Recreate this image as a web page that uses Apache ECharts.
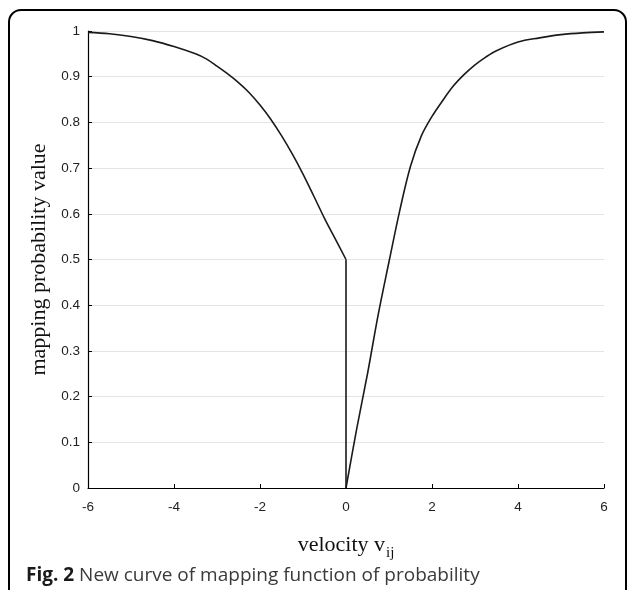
<!DOCTYPE html>
<html>
<head>
<meta charset="utf-8">
<script src="https://cdn.jsdelivr.net/npm/echarts@6/dist/echarts.min.js"></script>
<style>
html,body{margin:0;padding:0;background:#fff;}
#chart{width:627px;height:590px;}
</style>
</head>
<body>
<div id="chart"></div>
<script>
// velocity values (left branch, v <= 0) and mapped probability
const leftV = [-6, -5.5, -5, -4.5, -4, -3.5, -3.25, -3, -2.75, -2.5, -2.25, -2, -1.75, -1.5, -1.25, -1, -0.75, -0.5, -0.25, 0];
const leftP = [0.997, 0.994, 0.988, 0.979, 0.966, 0.950, 0.939, 0.923, 0.906, 0.887, 0.865, 0.838, 0.807, 0.771, 0.731, 0.687, 0.639, 0.590, 0.545, 0.5];
// right branch, v >= 0
const rightV = [0, 0.25, 0.5, 0.75, 1, 1.25, 1.5, 1.75, 2, 2.25, 2.5, 2.75, 3, 3.25, 3.5, 4, 4.5, 5, 5.5, 6];
const rightP = [0, 0.13, 0.25, 0.38, 0.495, 0.607, 0.704, 0.77, 0.813, 0.848, 0.88, 0.905, 0.926, 0.943, 0.957, 0.976, 0.985, 0.992, 0.996, 0.998];

const xTicks = {min: -6, max: 6, step: 2};
const yTicks = {min: 0, max: 1, step: 0.1};

const yTitle = 'mapping probability value';
const xTitleMain = 'velocity v';
const xTitleSub = 'ij';
const captionBold = 'Fig. 2';
const captionText = ' New curve of mapping function of probability';

const leftData = leftV.map((v, i) => [v, leftP[i]]);
const rightData = rightV.map((v, i) => [v, rightP[i]]);
// jump at v = 0 joins the end of the left branch to the start of the right branch
const jumpData = [leftData[leftData.length - 1], rightData[0]];

const serif = 'Liberation Serif, Times New Roman, serif';
const sans = 'Liberation Sans, Arial, sans-serif';
const lineStyle = {color: '#1a1a1a', width: 1.6};

const chart = echarts.init(document.getElementById('chart'), null, {renderer: 'canvas'});
chart.setOption({
  animation: false,
  backgroundColor: '#fff',
  grid: {left: 88, top: 31, width: 516, height: 457, containLabel: false},
  xAxis: {
    type: 'value',
    min: xTicks.min, max: xTicks.max, interval: xTicks.step,
    axisLine: {show: true, onZero: false, lineStyle: {color: '#000', width: 1.2}},
    axisTick: {show: true, inside: true, length: 4, lineStyle: {color: '#000'}},
    axisLabel: {color: '#222', fontFamily: sans, fontSize: 13.5, margin: 12},
    splitLine: {show: false},
    name: '{a|' + xTitleMain + '}{b|' + xTitleSub + '}',
    nameLocation: 'middle',
    nameGap: 42,
    nameTextStyle: {
      rich: {
        a: {fontFamily: serif, fontSize: 22, color: '#111'},
        b: {fontFamily: serif, fontSize: 15, color: '#111', padding: [16, 0, 0, 1]}
      }
    }
  },
  yAxis: {
    type: 'value',
    min: yTicks.min, max: yTicks.max, interval: yTicks.step,
    axisLine: {show: true, onZero: false, lineStyle: {color: '#000', width: 1.2}},
    axisTick: {show: true, inside: true, length: 4, lineStyle: {color: '#000'}},
    axisLabel: {color: '#222', fontFamily: sans, fontSize: 13.5, margin: 8},
    splitLine: {show: true, lineStyle: {color: '#e4e4e4', width: 1}},
    name: yTitle,
    nameLocation: 'middle',
    nameGap: 26,
    nameTextStyle: {fontFamily: serif, fontSize: 22, color: '#111'}
  },
  series: [
    {type: 'line', data: leftData, showSymbol: false, smooth: 0.35, lineStyle: lineStyle, z: 5},
    {type: 'line', data: jumpData, showSymbol: false, smooth: false, lineStyle: lineStyle, z: 5},
    {type: 'line', data: rightData, showSymbol: false, smooth: 0.35, lineStyle: lineStyle, z: 5}
  ],
  graphic: [
    {
      type: 'rect',
      shape: {x: 9, y: 10, width: 617, height: 640, r: 12},
      style: {fill: null, stroke: '#000', lineWidth: 2},
      silent: true
    },
    {
      type: 'text',
      left: 26,
      top: 566,
      style: {
        text: '{b|' + captionBold + '}{n|' + captionText + '}',
        rich: {
          b: {fontFamily: 'Open Sans, Noto Sans, sans-serif', fontWeight: 'bold', fontSize: 19, fill: '#1a1a1a'},
          n: {fontFamily: 'Open Sans, Noto Sans, sans-serif', fontSize: 19, fill: '#3a3a3a'}
        }
      }
    }
  ]
});
</script>
</body>
</html>
